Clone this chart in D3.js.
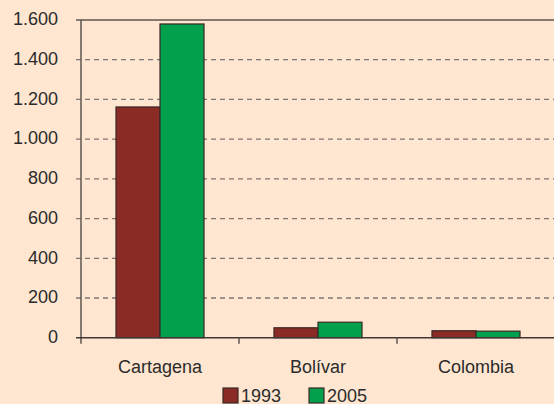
<!DOCTYPE html>
<html><head><meta charset="utf-8">
<script src="https://cdn.jsdelivr.net/npm/d3@7"></script>
<style>
html,body{margin:0;padding:0;background:#fee6d0;}
svg{display:block;}
text{font-family:"Liberation Sans",Arial,Helvetica,sans-serif;fill:#2b2b2b;}
</style></head>
<body>
<svg id="chart" width="554" height="404"></svg>
<script>
const categories = ["Cartagena", "Bolívar", "Colombia"];
const seriesNames = ["1993", "2005"];
const values1993 = [1162, 50, 35];
const values2005 = [1580, 78, 33];
const yTicks = [0, 200, 400, 600, 800, 1000, 1200, 1400, 1600];
const yTickLabels = ["0", "200", "400", "600", "800", "1.000", "1.200", "1.400", "1.600"];
const colors = ["#8a2b25", "#00a04c"];

const svg = d3.select("#chart");
svg.append("rect").attr("width",554).attr("height",404).attr("fill","#fee6d0");

const mLeft = 81, mRight = 555, mTop = 20, mBottom = 337.7;
const y = d3.scaleLinear().domain([0,1600]).range([mBottom, mTop]);
const x0 = d3.scaleBand().domain(categories).range([mLeft, mRight]).padding(0);
const x1 = d3.scaleBand().domain(seriesNames).range([0, x0.bandwidth()]).paddingInner(0).paddingOuter(0.795);

// gridlines
const grid = svg.append("g");
grid.selectAll("line.g").data(yTicks.filter(t => t > 0 && t < 1600)).join("line")
  .attr("x1", mLeft - 5).attr("x2", 554)
  .attr("y1", d => y(d)).attr("y2", d => y(d))
  .attr("stroke", "#7d7672").attr("stroke-width", 1.3).attr("stroke-dasharray", "5,4");
// top border
grid.append("line").attr("x1", mLeft - 5).attr("x2", 554).attr("y1", y(1600)).attr("y2", y(1600))
  .attr("stroke", "#5e5450").attr("stroke-width", 1.5);

// bars
const data = categories.map((c, i) => ({cat: c, vals: [values1993[i], values2005[i]]}));
const groups = svg.append("g").selectAll("g").data(data).join("g")
  .attr("transform", d => `translate(${x0(d.cat)},0)`);
groups.selectAll("rect").data(d => d.vals.map((v, j) => ({name: seriesNames[j], v, j}))).join("rect")
  .attr("x", d => x1(d.name))
  .attr("y", d => y(d.v))
  .attr("width", x1.bandwidth())
  .attr("height", d => y(0) - y(d.v))
  .attr("fill", d => colors[d.j])
  .attr("stroke", "#3a2825").attr("stroke-width", 1.2);

// y axis
const yAxis = d3.axisLeft(y).tickValues(yTicks).tickSize(5).tickSizeOuter(0)
  .tickFormat((d, i) => yTickLabels[i]);
const ya = svg.append("g").attr("transform", `translate(${mLeft},0)`).call(yAxis);
ya.select(".domain").remove();
ya.selectAll(".tick line").attr("stroke", "none");
ya.selectAll(".tick text").attr("x", -23).attr("dy", "0.32em").attr("y", -1)
  .style("font-size", "18px").attr("fill", "#2b2b2b");
svg.append("line").attr("x1", mLeft).attr("x2", mLeft).attr("y1", mTop).attr("y2", mBottom + 6)
  .attr("stroke", "#5e5450").attr("stroke-width", 1.5);
svg.append("line").attr("x1", mLeft - 5).attr("x2", 554).attr("y1", mBottom).attr("y2", mBottom)
  .attr("stroke", "#3f3734").attr("stroke-width", 1.5);

// x axis ticks between categories
svg.append("g").selectAll("line").data(categories.slice(1)).join("line")
  .attr("x1", d => x0(d)).attr("x2", d => x0(d))
  .attr("y1", mBottom).attr("y2", mBottom + 6)
  .attr("stroke", "#5e5450").attr("stroke-width", 1.5);

// category labels
svg.append("g").selectAll("text").data(categories).join("text")
  .attr("x", d => x0(d) + x0.bandwidth() / 2)
  .attr("y", 373)
  .attr("text-anchor", "middle")
  .style("font-size", "18px")
  .text(d => d);

// legend
const legendX = [223, 309];
const lg = svg.append("g").selectAll("g").data(seriesNames).join("g")
  .attr("transform", (d, i) => `translate(${legendX[i]},388)`);
lg.append("rect").attr("width", 15).attr("height", 15)
  .attr("fill", (d, i) => colors[i]).attr("stroke", "#3a2825").attr("stroke-width", 1.2);
lg.append("text").attr("x", 18).attr("y", 13.5).style("font-size", "18px").text(d => d);
</script>
</body></html>
